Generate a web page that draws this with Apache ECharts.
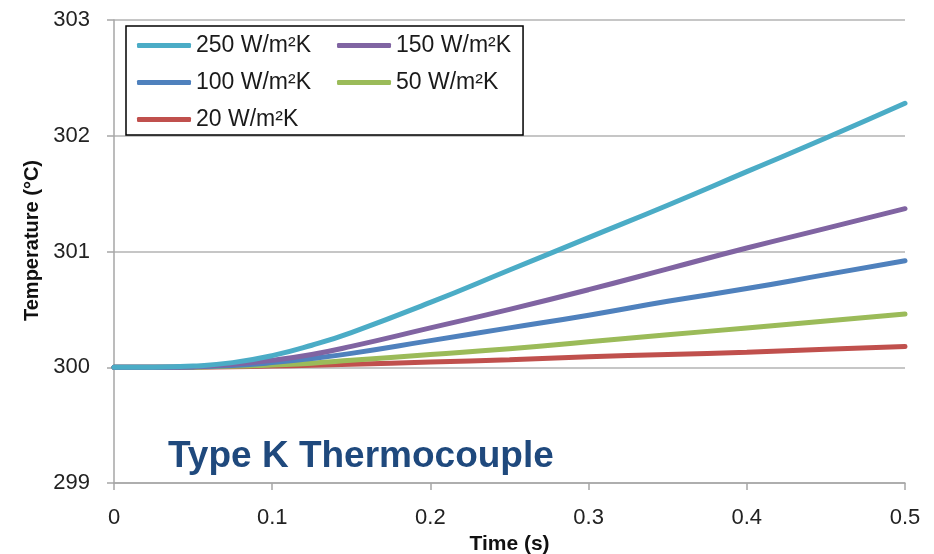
<!DOCTYPE html>
<html>
<head>
<meta charset="utf-8">
<script src="https://cdn.jsdelivr.net/npm/echarts@6/dist/echarts.min.js"></script>
<style>
html, body { margin: 0; padding: 0; background: #fff; }
#chart { width: 934px; height: 554px; }
</style>
</head>
<body>
<div id="chart"></div>
<script>
// time (s)
var times = [0, 0.025, 0.05, 0.075, 0.1, 0.125, 0.15, 0.2, 0.25, 0.3, 0.35, 0.4, 0.45, 0.5];
// temperature (°C) per heat transfer coefficient
var h250 = [300, 300, 300.01, 300.04, 300.10, 300.19, 300.30, 300.56, 300.84, 301.12, 301.40, 301.69, 301.98, 302.28];
var h150 = [300, 300, 300.005, 300.025, 300.06, 300.11, 300.18, 300.34, 300.50, 300.67, 300.85, 301.03, 301.20, 301.37];
var h100 = [300, 300, 300.003, 300.015, 300.04, 300.075, 300.12, 300.23, 300.34, 300.45, 300.57, 300.68, 300.80, 300.92];
var h50 = [300, 300, 300.002, 300.008, 300.02, 300.035, 300.06, 300.11, 300.16, 300.22, 300.28, 300.34, 300.40, 300.46];
var h20 = [300, 300, 300.001, 300.004, 300.01, 300.017, 300.025, 300.045, 300.065, 300.09, 300.11, 300.13, 300.155, 300.18];
var names = ['250 W/m²K', '150 W/m²K', '100 W/m²K', '50 W/m²K', '20 W/m²K'];
var colors = ['#4BACC6', '#8064A2', '#4F81BD', '#9BBB59', '#C0504D'];

function pairs(ys) {
    var out = [];
    for (var i = 0; i < times.length; i++) {
        out.push([times[i], ys[i]]);
    }
    return out;
}

var allData = [h250, h150, h100, h50, h20];
var series = [];
for (var i = 0; i < names.length; i++) {
    series.push({
        name: names[i],
        type: 'line',
        smooth: true,
        showSymbol: false,
        symbol: 'none',
        color: colors[i],
        lineStyle: { width: 5, cap: 'round' },
        z: 10 - i,
        data: pairs(allData[i])
    });
}

var font = 'Liberation Sans, Arial, sans-serif';
var myChart = echarts.init(document.getElementById('chart'));
var option = {
    animation: false,
    textStyle: { fontFamily: font },
    grid: { left: 114, right: 29, top: 20, bottom: 71, outerBoundsMode: 'none' },
    title: {
        text: 'Type K Thermocouple',
        left: 163,
        top: 433,
        textStyle: { fontFamily: font, fontSize: 37, fontWeight: 'bold', color: '#1F497D' }
    },
    legend: {
        data: names,
        left: 126,
        top: 26,
        width: 400,
        orient: 'horizontal',
        padding: [8, 0, 4, 11],
        itemGap: 14,
        itemWidth: 54,
        itemHeight: 5,
        icon: 'roundRect',
        borderColor: '#000',
        borderWidth: 1.5,
        backgroundColor: '#fff',
        textStyle: { fontFamily: font, fontSize: 23, color: '#1a1a1a', lineHeight: 22, padding: [0, 12, 0, 0] }
    },
    xAxis: {
        type: 'value',
        min: 0,
        max: 0.5,
        interval: 0.1,
        name: 'Time (s)',
        nameLocation: 'middle',
        nameGap: 46,
        nameTextStyle: { fontFamily: font, fontSize: 21, fontWeight: 'bold', color: '#111' },
        axisLine: { lineStyle: { color: '#a6a6a6', width: 1.5 } },
        axisTick: { show: true, length: 7, lineStyle: { color: '#a6a6a6', width: 1.5 } },
        axisLabel: { fontSize: 22, color: '#222', margin: 24 },
        splitLine: { show: false }
    },
    yAxis: {
        type: 'value',
        min: 299,
        max: 303,
        interval: 1,
        name: 'Temperature (°C)',
        nameLocation: 'middle',
        nameGap: 66,
        nameTextStyle: { fontFamily: font, fontSize: 20, fontWeight: 'bold', color: '#111', padding: [0, 0, 0, 22] },
        axisLine: { show: true, lineStyle: { color: '#a6a6a6', width: 1.5 } },
        axisTick: { show: true, length: 7, lineStyle: { color: '#a6a6a6', width: 1.5 } },
        axisLabel: { fontSize: 22, color: '#222', margin: 24 },
        splitLine: { show: true, lineStyle: { color: '#b3b3b3', width: 1.5 } }
    },
    series: series
};
myChart.setOption(option);
</script>
</body>
</html>
